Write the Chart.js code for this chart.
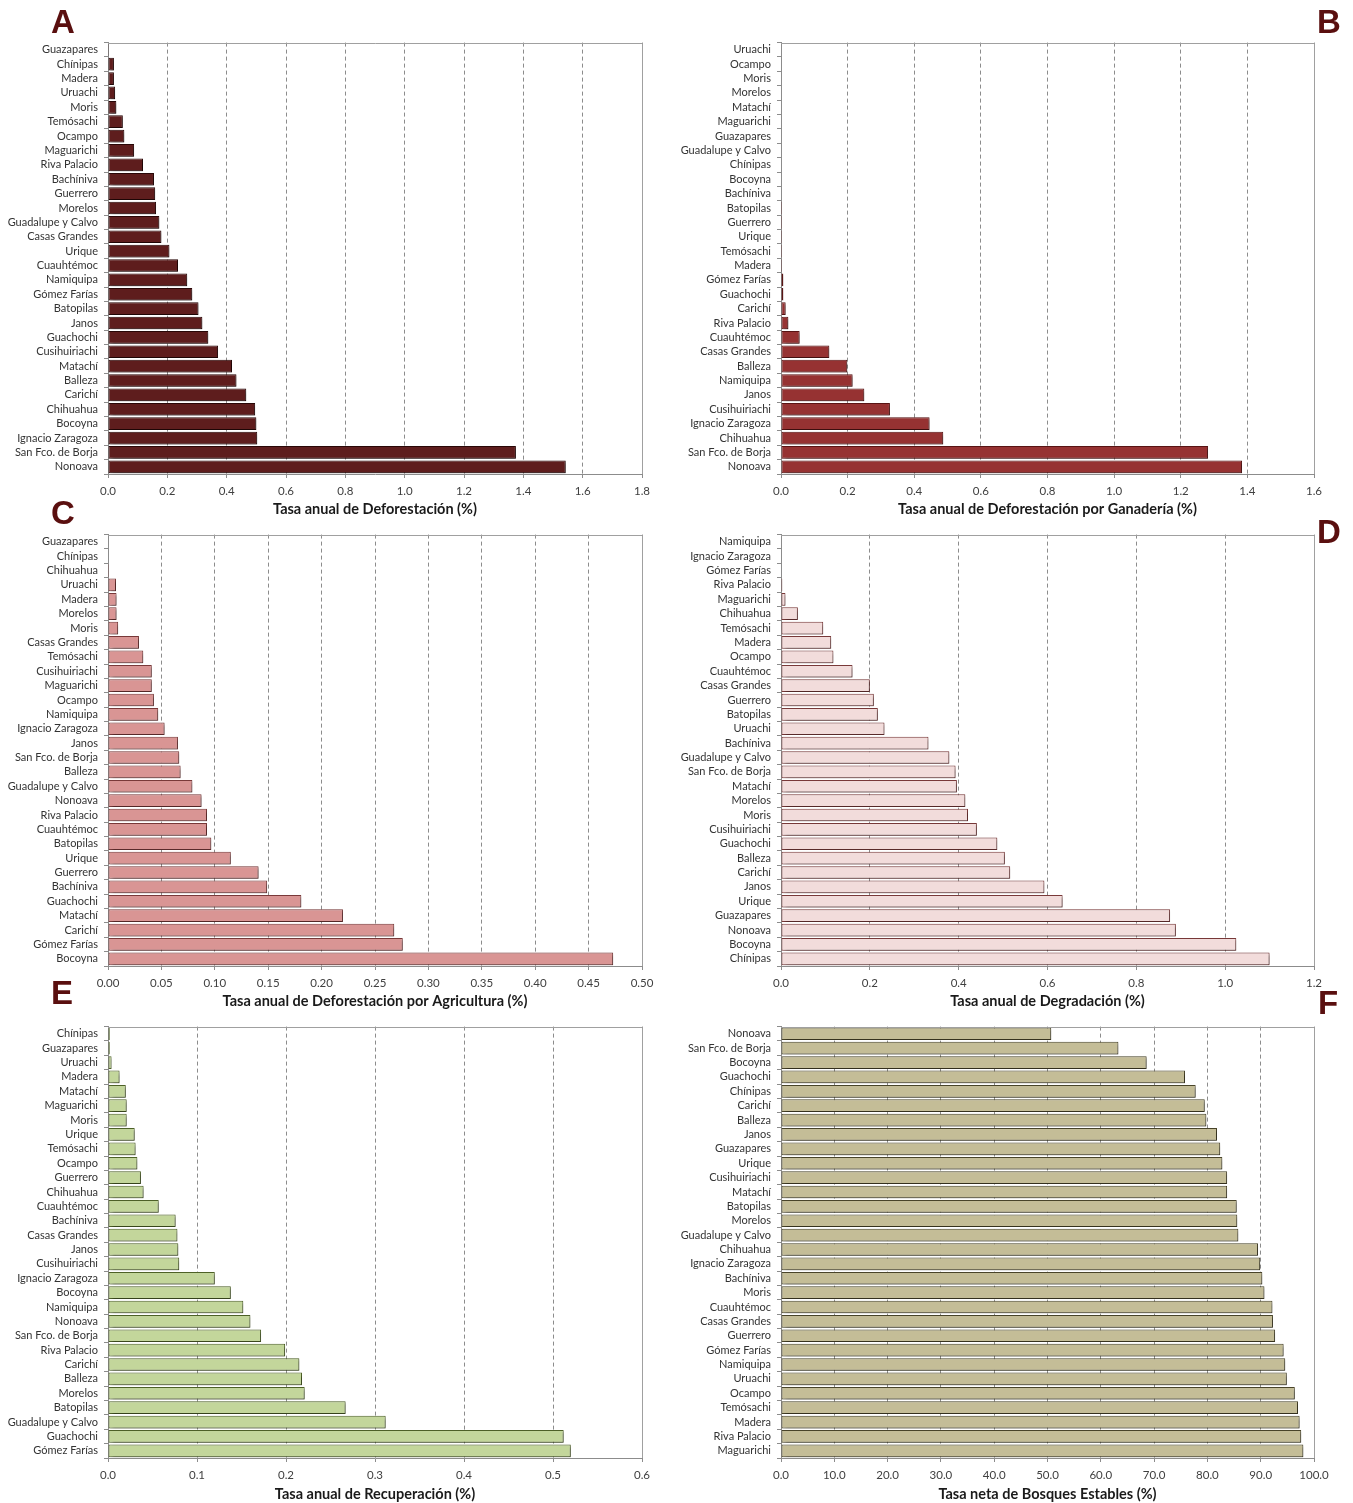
<!DOCTYPE html>
<html>
<head>
<meta charset="utf-8">
<script src="https://cdn.jsdelivr.net/npm/chart.js@4.4.1/dist/chart.umd.min.js"></script>
<style>
  html, body { margin: 0; padding: 0; background: #ffffff; }
  body { width: 1353px; height: 1503px; position: relative; overflow: hidden; }
  .panel { position: absolute; }
  .letter { position: absolute; font-family: "Liberation Sans", Arial, sans-serif; font-weight: bold;
            font-size: 33px; line-height: 33px; color: #5a0f0f; }
</style>
</head>
<body>
<div class="panel" style="left:0px;top:30px;"><canvas id="cA" width="660" height="490"></canvas></div>
<div class="panel" style="left:670px;top:30px;"><canvas id="cB" width="683" height="490"></canvas></div>
<div class="panel" style="left:0px;top:522px;"><canvas id="cC" width="660" height="490"></canvas></div>
<div class="panel" style="left:670px;top:522px;"><canvas id="cD" width="683" height="490"></canvas></div>
<div class="panel" style="left:0px;top:1014px;"><canvas id="cE" width="660" height="489"></canvas></div>
<div class="panel" style="left:670px;top:1014px;"><canvas id="cF" width="683" height="489"></canvas></div>

<div class="letter" style="left:51px;top:5px;">A</div>
<div class="letter" style="left:1317px;top:5px;">B</div>
<div class="letter" style="left:51px;top:496px;">C</div>
<div class="letter" style="left:1317px;top:515px;">D</div>
<div class="letter" style="left:51px;top:976px;">E</div>
<div class="letter" style="left:1318px;top:986px;">F</div>

<script>
// ---------- Panel A: Tasa anual de Deforestación ----------
const catsA = ["Guazapares","Chínipas","Madera","Uruachi","Moris","Temósachi","Ocampo","Maguarichi","Riva Palacio","Bachíniva","Guerrero","Morelos","Guadalupe y Calvo","Casas Grandes","Urique","Cuauhtémoc","Namiquipa","Gómez Farías","Batopilas","Janos","Guachochi","Cusihuiriachi","Matachí","Balleza","Carichí","Chihuahua","Bocoyna","Ignacio Zaragoza","San Fco. de Borja","Nonoava"];
const valsA = [0.003,0.020,0.020,0.024,0.028,0.050,0.055,0.088,0.118,0.155,0.159,0.162,0.173,0.180,0.207,0.236,0.267,0.284,0.305,0.318,0.338,0.371,0.418,0.433,0.466,0.496,0.500,0.503,1.375,1.543];
const ticksA = [0,0.2,0.4,0.6,0.8,1.0,1.2,1.4,1.6,1.8];

// ---------- Panel B: Deforestación por Ganadería ----------
const catsB = ["Uruachi","Ocampo","Moris","Morelos","Matachí","Maguarichi","Guazapares","Guadalupe y Calvo","Chínipas","Bocoyna","Bachíniva","Batopilas","Guerrero","Urique","Temósachi","Madera","Gómez Farías","Guachochi","Carichí","Riva Palacio","Cuauhtémoc","Casas Grandes","Balleza","Namiquipa","Janos","Cusihuiriachi","Ignacio Zaragoza","Chihuahua","San Fco. de Borja","Nonoava"];
const valsB = [0,0,0,0,0,0,0,0,0,0,0,0.003,0.003,0.003,0.003,0.003,0.007,0.007,0.014,0.022,0.056,0.145,0.199,0.215,0.250,0.327,0.446,0.487,1.282,1.384];
const ticksB = [0,0.2,0.4,0.6,0.8,1.0,1.2,1.4,1.6];

// ---------- Panel C: Deforestación por Agricultura ----------
const catsC = ["Guazapares","Chínipas","Chihuahua","Uruachi","Madera","Morelos","Moris","Casas Grandes","Temósachi","Cusihuiriachi","Maguarichi","Ocampo","Namiquipa","Ignacio Zaragoza","Janos","San Fco. de Borja","Balleza","Guadalupe y Calvo","Nonoava","Riva Palacio","Cuauhtémoc","Batopilas","Urique","Guerrero","Bachíniva","Guachochi","Matachí","Carichí","Gómez Farías","Bocoyna"];
const valsC = [0,0,0.001,0.0075,0.008,0.008,0.0095,0.029,0.033,0.041,0.041,0.043,0.047,0.053,0.0655,0.0667,0.068,0.079,0.0876,0.0927,0.0927,0.0967,0.115,0.141,0.149,0.181,0.220,0.268,0.276,0.473];
const ticksC = [0,0.05,0.10,0.15,0.20,0.25,0.30,0.35,0.40,0.45,0.50];

// ---------- Panel D: Degradación ----------
const catsD = ["Namiquipa","Ignacio Zaragoza","Gómez Farías","Riva Palacio","Maguarichi","Chihuahua","Temósachi","Madera","Ocampo","Cuauhtémoc","Casas Grandes","Guerrero","Batopilas","Uruachi","Bachíniva","Guadalupe y Calvo","San Fco. de Borja","Matachí","Morelos","Moris","Cusihuiriachi","Guachochi","Balleza","Carichí","Janos","Urique","Guazapares","Nonoava","Bocoyna","Chínipas"];
const valsD = [0,0,0,0.003,0.010,0.038,0.095,0.113,0.118,0.161,0.200,0.209,0.218,0.233,0.332,0.379,0.393,0.396,0.415,0.421,0.441,0.487,0.504,0.516,0.593,0.634,0.876,0.889,1.025,1.100];
const ticksD = [0,0.2,0.4,0.6,0.8,1.0,1.2];

// ---------- Panel E: Recuperación ----------
const catsE = ["Chínipas","Guazapares","Uruachi","Madera","Matachí","Maguarichi","Moris","Urique","Temósachi","Ocampo","Guerrero","Chihuahua","Cuauhtémoc","Bachíniva","Casas Grandes","Janos","Cusihuiriachi","Ignacio Zaragoza","Bocoyna","Namiquipa","Nonoava","San Fco. de Borja","Riva Palacio","Carichí","Balleza","Morelos","Batopilas","Guadalupe y Calvo","Guachochi","Gómez Farías"];
const valsE = [0.002,0.002,0.004,0.013,0.020,0.021,0.021,0.030,0.031,0.033,0.037,0.040,0.057,0.076,0.078,0.079,0.080,0.120,0.138,0.152,0.160,0.172,0.199,0.215,0.218,0.221,0.267,0.312,0.512,0.520];
const ticksE = [0,0.1,0.2,0.3,0.4,0.5,0.6];

// ---------- Panel F: Bosques Estables ----------
const catsF = ["Nonoava","San Fco. de Borja","Bocoyna","Guachochi","Chínipas","Carichí","Balleza","Janos","Guazapares","Urique","Cusihuiriachi","Matachí","Batopilas","Morelos","Guadalupe y Calvo","Chihuahua","Ignacio Zaragoza","Bachíniva","Moris","Cuauhtémoc","Casas Grandes","Guerrero","Gómez Farías","Namiquipa","Uruachi","Ocampo","Temósachi","Madera","Riva Palacio","Maguarichi"];
const valsF = [50.7,63.3,68.6,75.8,77.8,79.5,79.8,81.8,82.4,82.8,83.7,83.7,85.5,85.6,85.8,89.5,89.9,90.3,90.7,92.2,92.3,92.7,94.3,94.6,94.9,96.4,97.0,97.3,97.6,98.0];
const ticksF = [0,10,20,30,40,50,60,70,80,90,100];

const FONT = "Lato, 'Open Sans', sans-serif";

const shadowPlugin = {
  id: 'barShadow',
  beforeDatasetsDraw(chart) {
    const ctx = chart.ctx;
    ctx.save();
    ctx.shadowColor = 'rgba(0,0,0,0.4)';
    ctx.shadowOffsetX = 2;
    ctx.shadowOffsetY = 2;
    ctx.shadowBlur = 3;
  },
  afterDatasetsDraw(chart) { chart.ctx.restore(); }
};
const framePlugin = {
  id: 'frame',
  afterDraw(chart) {
    const {ctx, chartArea: a} = chart;
    ctx.save();
    ctx.strokeStyle = '#a0a0a0';
    ctx.lineWidth = 1;
    ctx.setLineDash([]);
    const r = Math.round(a.right) + 0.5;
    const t = Math.round(a.top) + 0.5;
    ctx.beginPath();
    ctx.moveTo(a.left, t);
    ctx.lineTo(r, t);
    ctx.lineTo(r, a.bottom);
    ctx.stroke();
    ctx.restore();
  }
};

function makePanel(id, cats, vals, ticks, dec, title, fill, border, yWidth, padRight, xHeight, titlePadBottom) {
  new Chart(document.getElementById(id), {
    type: 'bar',
    data: {
      labels: cats,
      datasets: [{
        data: vals,
        backgroundColor: fill,
        borderColor: border,
        borderWidth: 1,
        borderSkipped: false,
        categoryPercentage: 0.88,
        barPercentage: 1.0
      }]
    },
    options: {
      indexAxis: 'y',
      responsive: false,
      animation: false,
      layout: { padding: { top: 10, right: padRight, bottom: 0, left: 0 } },
      plugins: { legend: { display: false }, tooltip: { enabled: false } },
      scales: {
        x: {
          type: 'linear',
          min: ticks[0],
          max: ticks[ticks.length - 1],
          afterBuildTicks(scale) { scale.ticks = ticks.map(v => ({ value: v })); },
          afterFit(scale) { scale.height = xHeight; },
          ticks: {
            callback: v => Number(v).toFixed(dec),
            color: '#404040',
            font: { family: FONT, size: 11.5 },
            padding: 6,
            maxRotation: 0
          },
          grid: {
            color: '#8c8c8c',
            lineWidth: 1,
            tickLength: 4,
            tickColor: '#8c8c8c',
            tickBorderDash: []
          },
          border: { display: true, color: '#8c8c8c', width: 1, dash: [4, 3] },
          title: {
            display: true,
            text: title,
            color: '#1a1a1a',
            font: { family: FONT, size: 14.5, weight: 'bold' },
            padding: { top: 0, bottom: titlePadBottom }
          }
        },
        y: {
          type: 'category',
          afterFit(scale) { scale.width = yWidth; },
          ticks: {
            color: '#333333',
            font: { family: FONT, size: 11 },
            padding: 6,
            autoSkip: false
          },
          grid: {
            offset: true,
            drawOnChartArea: false,
            tickLength: 4,
            color: '#8c8c8c'
          },
          border: { display: true, color: '#8c8c8c', width: 1 }
        }
      }
    },
    plugins: [shadowPlugin, framePlugin]
  });
}

makePanel('cA', catsA, valsA, ticksA, 1, 'Tasa anual de Deforestación (%)', '#5e1d1d', '#2a0808', 108, 18, 46, 2);
makePanel('cB', catsB, valsB, ticksB, 1, 'Tasa anual de Deforestación por Ganadería (%)', '#963232', '#5a1515', 111, 39, 46, 2);
makePanel('cC', catsC, valsC, ticksC, 2, 'Tasa anual de Deforestación por Agricultura (%)', '#d99594', '#7a3a3a', 108, 18, 46, 2);
makePanel('cD', catsD, valsD, ticksD, 1, 'Tasa anual de Degradación (%)', '#f2dcdb', '#7a3a3a', 111, 39, 46, 2);
makePanel('cE', catsE, valsE, ticksE, 1, 'Tasa anual de Recuperación (%)', '#c3d69b', '#4f6228', 108, 18, 45, 0);
makePanel('cF', catsF, valsF, ticksF, 1, 'Tasa neta de Bosques Estables (%)', '#c4bd97', '#4a452a', 111, 39, 45, 0);
</script>
</body>
</html>
